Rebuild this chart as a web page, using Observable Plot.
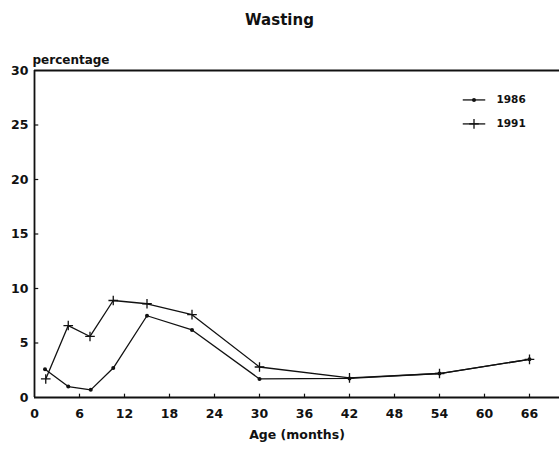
<!DOCTYPE html>
<html><head><meta charset="utf-8">
<script src="https://cdn.jsdelivr.net/npm/d3@7"></script>
<script src="https://cdn.jsdelivr.net/npm/@observablehq/plot@0.6"></script>
<style>
body{margin:0;background:#fff;}
#title{width:559px;height:40px;font:bold 15px "DejaVu Sans",sans-serif;line-height:40px;text-align:center;color:#111;}
#chart svg{display:block;}
</style></head><body>
<div id="title">Wasting</div>
<div id="chart"></div>
<script>
// Data
const ages1986 = [1.4, 4.5, 7.5, 10.5, 15, 21, 30, 42, 54, 66];
const pct1986  = [2.6, 1.0, 0.7, 2.7, 7.5, 6.2, 1.7, 1.75, 2.2, 3.5];
const ages1991 = [1.5, 4.5, 7.4, 10.5, 15, 21, 30, 42, 54, 66];
const pct1991  = [1.7, 6.6, 5.6, 8.9, 8.6, 7.6, 2.8, 1.8, 2.2, 3.5];
const seriesNames = ["1986", "1991"];
const xTicks = [0, 6, 12, 18, 24, 30, 36, 42, 48, 54, 60, 66];
const yTicks = [0, 5, 10, 15, 20, 25, 30];
const yLabel = "percentage";
const xLabel = "Age (months)";

const d86 = ages1986.map((a, i) => ({age: a, pct: pct1986[i]}));
const d91 = ages1991.map((a, i) => ({age: a, pct: pct1991[i]}));

const ink = "#111";
// legend placement (in data units)
const legX1 = 57.1, legX2 = 60.1, legXm = 58.6, legXt = 61.6;
const legY = [27.3, 25.1];
const legLines = seriesNames.map((s, i) => ({s, y: legY[i]}));

const chart = Plot.plot({
  width: 559, height: 409,
  marginLeft: 34, marginRight: 0, marginTop: 30, marginBottom: 52,
  style: {fontFamily: "DejaVu Sans, sans-serif", fontWeight: "bold", fontSize: "12px", background: "#fff", color: ink, overflow: "visible"},
  x: {domain: [0, 70]},
  y: {domain: [0, 30]},
  marks: [
    Plot.axisX({ticks: xTicks, tickSize: 0, tickPadding: 12, label: null, fontSize: 12.5}),
    Plot.axisY({ticks: yTicks, tickSize: 0, tickPadding: 6, label: null, fontSize: 12.5}),
    Plot.ruleX([0], {stroke: ink, strokeWidth: 1.8}),
    Plot.ruleY([0, 30], {stroke: ink, strokeWidth: 1.8}),
    Plot.link(yTicks.slice(1, -1), {x1: 0, x2: 0.5, y1: d => d, y2: d => d, stroke: ink, strokeWidth: 1.2}),
    Plot.link(xTicks.slice(1), {x1: d => d, x2: d => d, y1: 0, y2: 0.35, stroke: ink, strokeWidth: 1.2}),
    Plot.text([yLabel], {frameAnchor: "top-left", textAnchor: "start", dx: -2, dy: -15, fontSize: 12, style: "letter-spacing:0.6px"}),
    Plot.text([xLabel], {frameAnchor: "bottom", dy: 41, fontSize: 12.5}),
    Plot.line(d86, {x: "age", y: "pct", stroke: ink, strokeWidth: 1.3}),
    Plot.dot(d86, {x: "age", y: "pct", r: 2, fill: ink, stroke: null}),
    Plot.line(d91, {x: "age", y: "pct", stroke: ink, strokeWidth: 1.3}),
    Plot.dot(d91, {x: "age", y: "pct", symbol: "plus", r: 3.2, stroke: ink, strokeWidth: 1.3}),
    // legend
    Plot.link(legLines, {x1: legX1, x2: legX2, y1: "y", y2: "y", stroke: ink, strokeWidth: 1.3}),
    Plot.dot(legLines.slice(0, 1), {x: legXm, y: "y", r: 2, fill: ink, stroke: null}),
    Plot.dot(legLines.slice(1), {x: legXm, y: "y", symbol: "plus", r: 3.2, stroke: ink, strokeWidth: 1.3}),
    Plot.text(legLines, {x: legXt, y: "y", text: "s", textAnchor: "start", fontSize: 10.5})
  ]
});
document.getElementById("chart").appendChild(chart);
</script>
</body></html>
